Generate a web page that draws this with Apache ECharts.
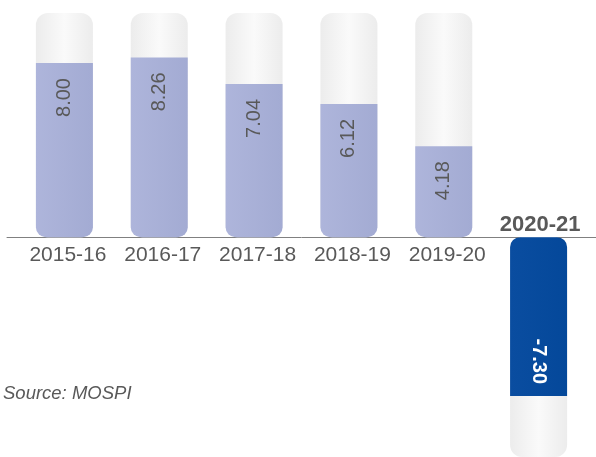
<!DOCTYPE html>
<html>
<head>
<meta charset="utf-8">
<script src="https://cdn.jsdelivr.net/npm/echarts@6/dist/echarts.min.js"></script>
<style>
html,body{margin:0;padding:0;background:#fff;}
#chart{width:596px;height:457px;}
</style>
</head>
<body>
<div id="chart"></div>
<script>
const categories = ['2015-16', '2016-17', '2017-18', '2018-19', '2019-20', '2020-21'];
const growth = [8.00, 8.26, 7.04, 6.12, 4.18, -7.30];
const track = [10.3, 10.3, 10.3, 10.3, 10.3, -10.1];
const highlightCategory = '2020-21';

const yMin = -10.1, yMax = 10.3;
const FONT = 'Liberation Sans, Arial, sans-serif';
const W = 596, H = 457, TOP = 13, BOTTOM = 0;
// pixel row of value 0 on the main value axis, so the label rows can sit on it
const zeroY = TOP + (H - TOP - BOTTOM) * yMax / (yMax - yMin);

const posColor = new echarts.graphic.LinearGradient(0, 0, 1, 0, [
  {offset: 0, color: '#aeb5db'}, {offset: 1, color: '#a3abd3'}
]);
const negColor = new echarts.graphic.LinearGradient(0, 0, 1, 0, [
  {offset: 0, color: '#0a4da0'}, {offset: 1, color: '#04489a'}
]);
const trackColor = new echarts.graphic.LinearGradient(0, 0, 1, 0, [
  {offset: 0, color: '#ececec'}, {offset: 0.5, color: '#fafafa'}, {offset: 1, color: '#ececec'}
]);

const chart = echarts.init(document.getElementById('chart'), null, {renderer: 'canvas', width: W, height: H});

const fmt = p => Number(p.value).toFixed(2);
const growthData = growth.map(v => {
  if (v >= 0) {
    return {
      value: v,
      itemStyle: {color: posColor, borderRadius: [0, 0, 10, 10]},
      label: {
        show: true, position: 'insideTop', distance: 15, rotate: 90,
        align: 'right', verticalAlign: 'middle', formatter: fmt,
        fontFamily: FONT, fontSize: 20, color: '#595959'
      }
    };
  }
  return {
    value: v,
    itemStyle: {color: negColor, borderRadius: [10, 10, 0, 0]},
    label: {
      show: true, position: 'insideBottom', distance: 12, rotate: -90,
      align: 'right', verticalAlign: 'middle', formatter: fmt,
      fontFamily: FONT, fontSize: 20, fontWeight: 'bold', color: '#ffffff'
    }
  };
});

const g = (o) => Object.assign({containLabel: false, outerBoundsMode: 'none'}, o);
const labelGrid = {left: 17, right: 10, top: TOP, bottom: H - zeroY};

chart.setOption({
  animation: false,
  backgroundColor: '#ffffff',
  title: {
    text: 'Source: MOSPI', left: 3, top: 384, padding: 0,
    textStyle: {fontFamily: FONT, fontSize: 18.5, fontStyle: 'italic', fontWeight: 'normal', color: '#595959'}
  },
  grid: [
    g({left: 17, right: 10, top: TOP, bottom: BOTTOM}),
    g({left: 7, right: 0, top: TOP, bottom: BOTTOM}),
    g(labelGrid),
    g(labelGrid)
  ],
  xAxis: [
    {
      type: 'category', gridIndex: 0, data: categories, show: false
    },
    {
      type: 'category', gridIndex: 1, data: [''],
      axisLine: {show: true, onZero: true, lineStyle: {color: '#808080', width: 1}},
      axisTick: {show: false}, axisLabel: {show: false}
    },
    {
      type: 'category', gridIndex: 2, data: categories, position: 'bottom',
      axisLine: {show: false, onZero: false}, axisTick: {show: false},
      axisLabel: {
        interval: 0, margin: 8, padding: [0, 0, 0, 7], fontFamily: FONT, fontSize: 21, color: '#595959',
        formatter: v => v === highlightCategory ? '' : v
      }
    },
    {
      type: 'category', gridIndex: 3, data: categories, position: 'bottom',
      axisLine: {show: false, onZero: false}, axisTick: {show: false},
      axisLabel: {
        inside: true, interval: 0, margin: 1, padding: [0, 0, 0, 3], fontFamily: FONT, fontSize: 22,
        fontWeight: 'bold', color: '#595959',
        formatter: v => v === highlightCategory ? v : ''
      }
    }
  ],
  yAxis: [
    {type: 'value', gridIndex: 0, min: yMin, max: yMax, show: false},
    {type: 'value', gridIndex: 1, min: yMin, max: yMax, show: false},
    {type: 'value', gridIndex: 2, min: 0, max: yMax, show: false},
    {type: 'value', gridIndex: 3, min: 0, max: yMax, show: false}
  ],
  series: [
    {
      type: 'bar', xAxisIndex: 0, yAxisIndex: 0, data: track, barWidth: 57, barGap: '-100%',
      itemStyle: {color: trackColor, borderRadius: 12}, silent: true, z: 1
    },
    {
      type: 'bar', xAxisIndex: 0, yAxisIndex: 0, data: growthData, barWidth: 57, barGap: '-100%', z: 2
    }
  ]
});
</script>
</body>
</html>
